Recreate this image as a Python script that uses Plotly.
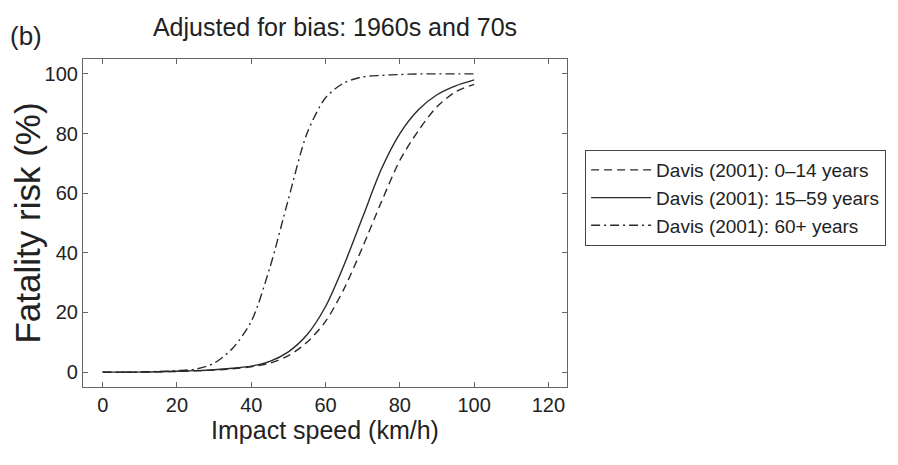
import plotly.graph_objects as go

speed = [0, 5, 10, 15, 20, 25, 30, 35, 40, 45, 50, 55, 60, 65, 70, 75, 80, 85, 90, 95, 100]
risk_0_14 = [0, 0, 0, 0.1, 0.2, 0.4, 0.7, 1.1, 1.8, 3.0, 5.5, 10, 17, 28, 42, 57, 71, 81, 89, 94, 96.5]
risk_15_59 = [0, 0, 0, 0.1, 0.3, 0.5, 0.8, 1.3, 2.0, 3.6, 6.8, 12.5, 22, 36, 52, 68, 80, 88, 93, 96, 98]
risk_60p = [0, 0, 0.1, 0.2, 0.5, 1.0, 3.0, 8, 17, 35, 58, 80, 92, 97, 99, 99.5, 99.8, 100, 100, 100, 100]

names = ["Davis (2001): 0\u201314 years", "Davis (2001): 15\u201359 years", "Davis (2001): 60+ years"]
x_ticks = [0, 20, 40, 60, 80, 100, 120]
y_ticks = [0, 20, 40, 60, 80, 100]

FONT = "Liberation Sans, Arial, sans-serif"
lc = "#2a2a2a"

fig = go.Figure()
fig.add_trace(go.Scatter(x=speed, y=risk_0_14, name=names[0], mode="lines",
                         line=dict(color=lc, width=1.4, dash="8px,5px", shape="spline", smoothing=0.8)))
fig.add_trace(go.Scatter(x=speed, y=risk_15_59, name=names[1], mode="lines",
                         line=dict(color=lc, width=1.4, shape="spline", smoothing=0.8)))
fig.add_trace(go.Scatter(x=speed, y=risk_60p, name=names[2], mode="lines",
                         line=dict(color=lc, width=1.4, dash="9px,4px,2px,4px", shape="spline", smoothing=0.8)))

axis_common = dict(showgrid=False, zeroline=False, showline=True, linecolor="#666666", linewidth=1.2,
                   mirror="ticks", ticks="inside", ticklen=5, tickcolor="#666666", automargin=False,
                   tickfont=dict(family=FONT, size=20, color="#222"))

# page body has an 8px default margin; compensate so the plot lands where the reference has it
fig.update_layout(
    width=890, height=457,
    margin=dict(l=75, r=328, t=51, b=78),
    paper_bgcolor="white", plot_bgcolor="white",
    font=dict(family=FONT, color="#222"),
    title=dict(text="Adjusted for bias: 1960s and 70s", x=327 / 890, xanchor="center",
               y=1 - 19 / 457, yanchor="middle", font=dict(family=FONT, size=25, color="#222"),
               automargin=False),
    xaxis=dict(range=[-5.3, 125], tickvals=x_ticks,
               title=dict(text="Impact speed (km/h)", font=dict(family=FONT, size=25, color="#222"), standoff=4),
               **axis_common),
    yaxis=dict(range=[-5, 105], tickvals=y_ticks,
               title=dict(text="Fatality risk (%)", font=dict(family=FONT, size=35, color="#222"), standoff=2),
               **axis_common),
    legend=dict(x=1.037, xanchor="left", y=0.723, yanchor="top",
                bordercolor="#444", borderwidth=1.2, bgcolor="white",
                font=dict(family=FONT, size=19, color="#222"), tracegroupgap=0, itemwidth=60),
    showlegend=True,
    annotations=[dict(text="(b)", xref="paper", yref="paper", x=-0.154, y=1.07,
                      xanchor="left", yanchor="middle", showarrow=False,
                      font=dict(family=FONT, size=26, color="#222"))],
)

fig.write_html("out.html")
